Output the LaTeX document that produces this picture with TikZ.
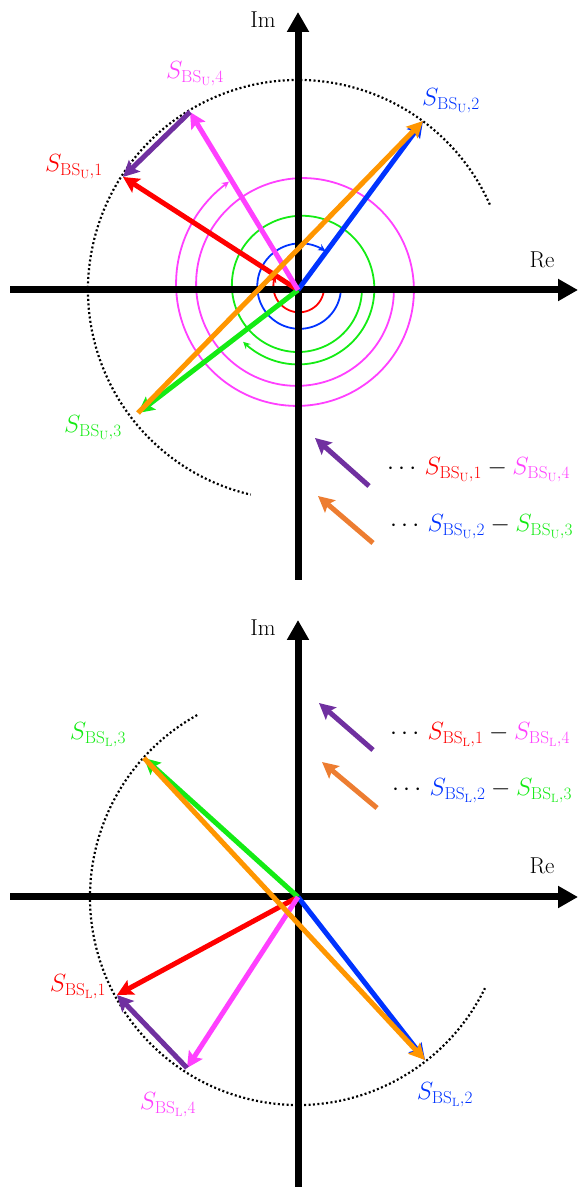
\documentclass[tikz,border=0pt]{standalone}
\usetikzlibrary{arrows.meta}
\definecolor{vred}{RGB}{255,0,0}
\definecolor{vblue}{RGB}{0,51,255}
\definecolor{vgreen}{RGB}{20,235,20}
\definecolor{vmag}{RGB}{255,64,255}
\definecolor{vpurple}{RGB}{112,48,160}
\definecolor{vorange}{RGB}{255,150,0}
\definecolor{lorange}{RGB}{237,125,49}
\begin{document}
\begin{tikzpicture}[
      x=1pt, y=1pt,
      axis/.style={line width=7pt, -{Triangle[length=20pt, width=21pt]}},
      vec/.style={line width=5pt, -{Stealth[length=16pt, width=16pt, inset=3pt]}},
      swirl/.style={line width=1.8pt, -{Stealth[length=7pt, width=7pt]}},
      ring/.style={line width=2.2pt, dash pattern=on 2pt off 2.4pt},
      lbl/.style={font=\fontsize{23}{27}\selectfont},
      legend/.style={lbl, anchor=west, inner sep=0pt}
    ]
    \useasboundingbox (0,0) rectangle (579,1187);

    % Upper panel: BS_U, origin at the crossing of the axes.
    \begin{scope}[shift={(298,897)}]
      \coordinate (OU)  at (0,0);
      \coordinate (UxL) at (-288,0);
      \coordinate (UxR) at (280,0);
      \coordinate (UyB) at (0,-290);
      \coordinate (UyT) at (0,278);
      \coordinate (U1)  at (-175, 113);
      \coordinate (U2)  at ( 125, 169);
      \coordinate (U3)  at (-160,-123);
      \coordinate (U4)  at (-108, 178);

      \draw[ring] (24:210) arc[start angle=24, end angle=257, radius=210];

      % rotation swirls
      \begin{scope}[shift={(2,3)}]
        \draw[swirl, vmag]   plot[domain=3:596, samples=150, smooth] ({-\x}:{94+0.0557*(\x-3)});
        \draw[swirl, vgreen] plot[domain=3:496, samples=120, smooth] ({-\x}:{62+0.0345*(\x-3)});
        \draw[swirl, vblue]  plot[domain=5:305, samples=80,  smooth] ({-\x}:{41+0.01*(\x-5)});
        \draw[swirl, vred]   plot[domain=3:205, samples=60,  smooth] ({-\x}:{24+0.0149*(\x-3)});
      \end{scope}

      \draw[axis] (UxL) -- (UxR);
      \draw[axis] (UyB) -- (UyT);
      \node[lbl] (ImU) at (-35,270) {Im};
      \node[lbl] (ReU) at (244,30)  {Re};

      \draw[vec, vred]   (OU) -- (U1);
      \draw[vec, vblue]  (OU) -- (U2);
      \draw[vec, vgreen] (OU) -- (U3);
      \draw[vec, vmag]   (OU) -- (U4);
      \draw[vec, vpurple] (U4) -- (U1);
      \draw[vec, vorange] (U3) -- (U2);

      \node[lbl, text=vred]   (U1l) at (-224, 123) {$S_{\mathrm{BS}_\mathrm{U},1}$};
      \node[lbl, text=vblue]  (U2l) at ( 153, 189) {$S_{\mathrm{BS}_\mathrm{U},2}$};
      \node[lbl, text=vgreen] (U3l) at (-205,-138) {$S_{\mathrm{BS}_\mathrm{U},3}$};
      \node[lbl, text=vmag]   (U4l) at (-103, 216) {$S_{\mathrm{BS}_\mathrm{U},4}$};

      % legend
      \coordinate (ULa) at (71,-196);
      \coordinate (ULb) at (17,-148);
      \coordinate (ULc) at (75,-253);
      \coordinate (ULd) at (20,-206);
      \draw[vec, vpurple] (ULa) -- (ULb);
      \draw[vec, lorange] (ULc) -- (ULd);
      \node[legend] (ULt1) at (89,-180)
        {$\cdots\,\textcolor{vred}{S_{\mathrm{BS}_\mathrm{U},1}}-\textcolor{vmag}{S_{\mathrm{BS}_\mathrm{U},4}}$};
      \node[legend] (ULt2) at (92,-237)
        {$\cdots\,\textcolor{vblue}{S_{\mathrm{BS}_\mathrm{U},2}}-\textcolor{vgreen}{S_{\mathrm{BS}_\mathrm{U},3}}$};
    \end{scope}

    % Lower panel: BS_L.
    \begin{scope}[shift={(298,290)}]
      \coordinate (OL)  at (0,0);
      \coordinate (LxL) at (-288,0);
      \coordinate (LxR) at (280,0);
      \coordinate (LyB) at (0,-292);
      \coordinate (LyT) at (0,277);
      \coordinate (L1)  at (-181, -98);
      \coordinate (L2)  at ( 127,-163);
      \coordinate (L3)  at (-154, 139);
      \coordinate (L4)  at (-111,-171);

      \draw[ring] (119:208) arc[start angle=119, end angle=334, radius=208];

      \draw[axis] (LxL) -- (LxR);
      \draw[axis] (LyB) -- (LyT);
      \node[lbl] (ImL) at (-35,269) {Im};
      \node[lbl] (ReL) at (244,31)  {Re};

      \draw[vec, vred]   (OL) -- (L1);
      \draw[vec, vblue]  (OL) -- (L2);
      \draw[vec, vgreen] (OL) -- (L3);
      \draw[vec, vmag]   (OL) -- (L4);
      \draw[vec, vpurple] (L4) -- (L1);
      \draw[vec, vorange] (L3) -- (L2);

      \node[lbl, text=vred]   (L1l) at (-220, -90) {$S_{\mathrm{BS}_\mathrm{L},1}$};
      \node[lbl, text=vblue]  (L2l) at ( 147,-198) {$S_{\mathrm{BS}_\mathrm{L},2}$};
      \node[lbl, text=vgreen] (L3l) at (-200, 162) {$S_{\mathrm{BS}_\mathrm{L},3}$};
      \node[lbl, text=vmag]   (L4l) at (-130,-208) {$S_{\mathrm{BS}_\mathrm{L},4}$};

      % legend
      \coordinate (LLa) at (75,147);
      \coordinate (LLb) at (21,194);
      \coordinate (LLc) at (79,89);
      \coordinate (LLd) at (24,135);
      \draw[vec, vpurple] (LLa) -- (LLb);
      \draw[vec, lorange] (LLc) -- (LLd);
      \node[legend] (LLt1) at (92,162)
        {$\cdots\,\textcolor{vred}{S_{\mathrm{BS}_\mathrm{L},1}}-\textcolor{vmag}{S_{\mathrm{BS}_\mathrm{L},4}}$};
      \node[legend] (LLt2) at (94,106)
        {$\cdots\,\textcolor{vblue}{S_{\mathrm{BS}_\mathrm{L},2}}-\textcolor{vgreen}{S_{\mathrm{BS}_\mathrm{L},3}}$};
    \end{scope}
  \end{tikzpicture}
\end{document}
